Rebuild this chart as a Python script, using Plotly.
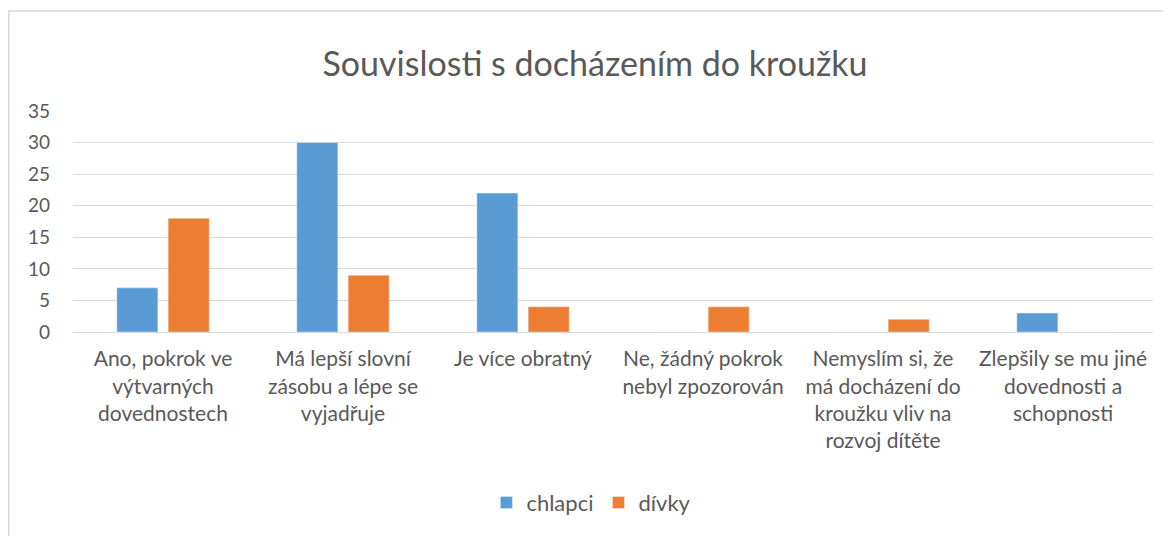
import plotly.graph_objects as go

categories = [
    "Ano, pokrok ve<br>výtvarných<br>dovednostech",
    "Má lepší slovní<br>zásobu a lépe se<br>vyjadřuje",
    "Je více obratný",
    "Ne, žádný pokrok<br>nebyl zpozorován",
    "Nemyslím si, že<br>má docházení do<br>kroužku vliv na<br>rozvoj dítěte",
    "Zlepšily se mu jiné<br>dovednosti a<br>schopnosti",
]
chlapci = [7, 30, 22, 0, 0, 3]
divky = [18, 9, 4, 4, 2, 0]

font_family = "Lato, 'Open Sans', sans-serif"
grey = "#595959"

fig = go.Figure()
fig.add_trace(go.Bar(x=categories, y=chlapci, name="chlapci", marker_color="#5B9BD5"))
fig.add_trace(go.Bar(x=categories, y=divky, name="dívky", marker_color="#ED7D31"))

# chart frame like the Excel chart area
fig.add_shape(type="rect", xref="paper", yref="paper",
              x0=-0.0595, x1=1.2, y0=-1.5, y1=1.4525,
              line={"color": "#D9D9D9", "width": 1.5}, layer="below")

fig.update_layout(
    width=1171,
    height=536,
    margin={"l": 65, "r": 26, "t": 103, "b": 212},
    paper_bgcolor="white",
    plot_bgcolor="white",
    font={"family": font_family, "color": grey, "size": 18},
    title={"text": "Souvislosti s docházením do kroužku", "x": 0.4833, "xref": "paper",
           "xanchor": "center", "y": 0.895, "yanchor": "middle",
           "font": {"size": 34, "color": grey}},
    barmode="group",
    bargap=0.43,
    bargroupgap=0.2,
    showlegend=True,
    legend={"orientation": "h", "x": 0.48, "xanchor": "center", "y": 0.077,
            "yref": "container", "yanchor": "middle", "font": {"size": 22}},
    xaxis={"showline": True, "linecolor": "#D9D9D9", "linewidth": 1,
           "tickfont": {"size": 21}, "ticks": "", "ticklabelstandoff": 8},
    yaxis={"range": [0, 35], "dtick": 5, "showgrid": True, "gridcolor": "#D9D9D9",
           "zeroline": False, "tickfont": {"size": 19}, "ticklabelstandoff": 22},
)

fig.write_html("out.html")
